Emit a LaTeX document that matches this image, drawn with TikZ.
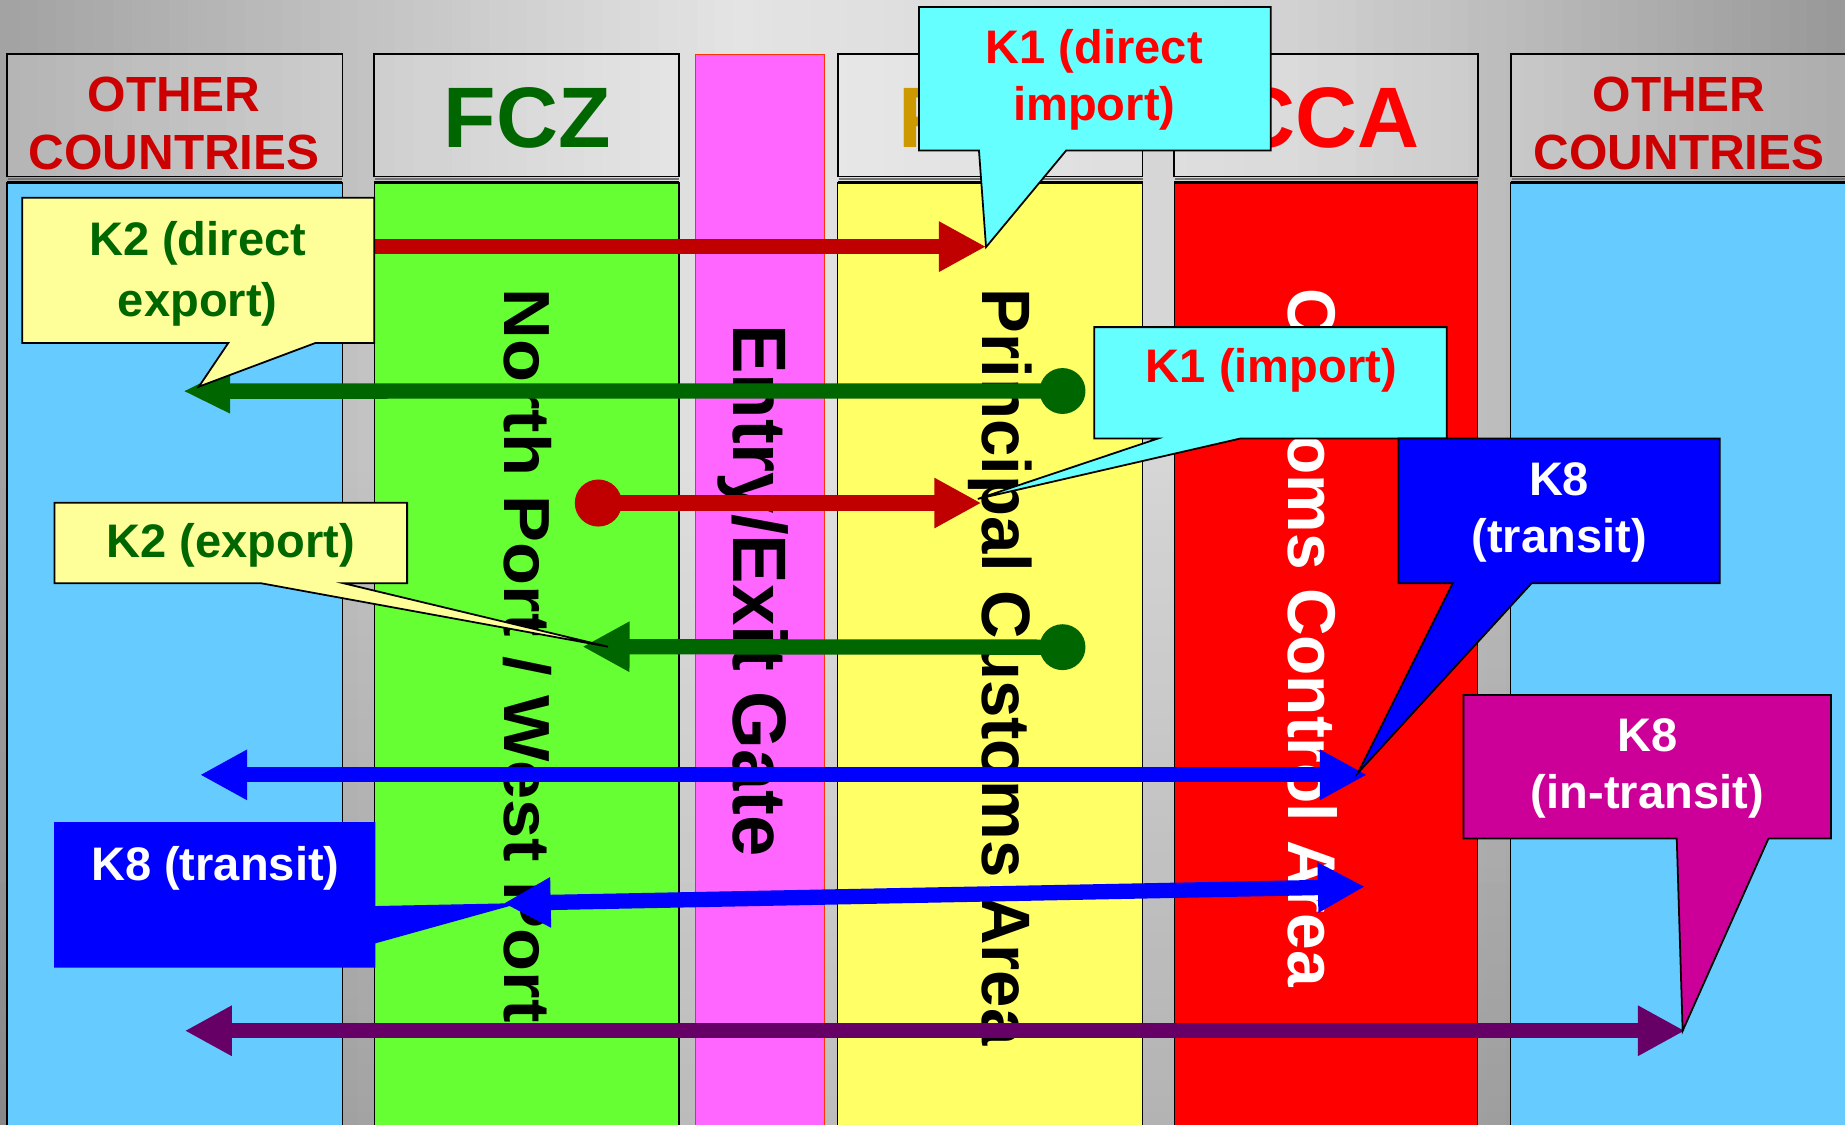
\documentclass[tikz,border=0pt]{standalone}
\usepackage{fontspec}
\usepackage{graphicx}
\setmainfont{Liberation Sans}
\usetikzlibrary{arrows.meta}
\definecolor{lblue}{HTML}{66CCFF}
\definecolor{lgreen}{HTML}{66FF33}
\definecolor{lpink}{HTML}{FF66FF}
\definecolor{lyellow}{HTML}{FFFF66}
\definecolor{cred}{HTML}{FF0000}
\definecolor{darkred}{HTML}{CC0000}
\definecolor{fczgreen}{HTML}{006600}
\definecolor{gold}{HTML}{CC9900}
\definecolor{cyanbox}{HTML}{66FFFF}
\definecolor{paleyellow}{HTML}{FFFF99}
\definecolor{kblue}{HTML}{0000FF}
\definecolor{kmagenta}{HTML}{CC0099}
\definecolor{arrred}{HTML}{C00000}
\definecolor{arrpurple}{HTML}{660066}
\definecolor{pinkedge}{HTML}{FF3300}
\newcommand\setfs[1]{\fontsize{#1pt}{#1pt}\selectfont}
\begin{document}
\begin{tikzpicture}[x=1pt, y=-1pt,
  hdrbox/.style={draw=black, line width=1.5pt, fill=white, fill opacity=0.2},
  hdrshadow/.style={draw=black!55, line width=2pt},
  colbody/.style={draw=black, line width=1pt},
  coltop/.style={draw=black, line width=2.5pt},
  callout/.style={draw=black, line width=1.5pt},
  hlabel/.style={inner sep=0, anchor=base, font=\bfseries\setfs{42}},
  biglabel/.style={inner sep=0, anchor=base, font=\bfseries\setfs{73}},
  vlabel/.style={inner sep=0, anchor=base west, rotate=-90},
  klabel/.style={inner sep=0, anchor=base, font=\bfseries\setfs{40}},
  arr/.style={line width=13pt, -{Triangle[length=40pt,width=40pt]}},
  darr/.style={line width=13pt, {Triangle[length=40pt,width=40pt]}-{Triangle[length=40pt,width=40pt]}},
  dot/.style={circle, inner sep=0, minimum size=39pt}]
\useasboundingbox (0,0) rectangle (1568,956);
% background gradient drawn as strips
\foreach \i in {0,...,97} {
  \pgfmathsetmacro\xa{\i*16}
  \pgfmathsetmacro\xc{\i*16+8}
  \pgfmathsetmacro\g{ifthenelse(\xc<627, 0.635+0.259*\xc/627, ifthenelse(\xc<1098, 0.894-0.070*(\xc-627)/471, 0.824-0.228*(\xc-1098)/470))}
  \definecolor{bgtmp}{gray}{\g}
  \fill[bgtmp] (\xa,0) rectangle (\xa+16.6,956);
}
\foreach \j in {0,...,39} {
  \pgfmathsetmacro\ya{400+\j*14}
  \pgfmathsetmacro\op{0.004*(\j+1)}
  \fill[black, fill opacity=\op] (0,\ya) rectangle (1568,\ya+14);
}
% column bodies
\draw[colbody, fill=lblue] (6,155) rectangle (291,965);
\draw[colbody, fill=lgreen] (318,155) rectangle (577,965);
\draw[colbody, fill=lyellow] (712,155) rectangle (971,965);
\draw[colbody, fill=cred] (998,155) rectangle (1256,965);
\draw[colbody, fill=lblue] (1284,155) rectangle (1580,965);
\draw[coltop] (6,155) -- (291,155);
\draw[coltop] (318,155) -- (577,155);
\draw[coltop] (712,155) -- (971,155);
\draw[coltop] (998,155) -- (1256,155);
\draw[coltop] (1284,155) -- (1580,155);
\draw[fill=lpink, draw=pinkedge, line width=1pt] (591,46) rectangle (701,965);
% headers
\draw[hdrbox] (6,46) rectangle (291,150);
\draw[hdrbox] (318,46) rectangle (577,150);
\draw[hdrbox] (712,46) rectangle (971,150);
\draw[hdrbox] (998,46) rectangle (1256,150);
\draw[hdrbox] (1284,46) rectangle (1580,150);
\draw[hdrshadow] (7,152) -- (291,152);
\draw[hdrshadow] (319,152) -- (577,152);
\draw[hdrshadow] (713,152) -- (971,152);
\draw[hdrshadow] (999,152) -- (1256,152);
\draw[hdrshadow] (1285,152) -- (1580,152);
\node[hlabel, text=darkred] (ocl1) at (148,95) {OTHER};
\node[hlabel, text=darkred] (ocl2) at (148,144) {COUNTRIES};
\node[hlabel, text=darkred] (ocr1) at (1427,95) {OTHER};
\node[hlabel, text=darkred] (ocr2) at (1427,144) {COUNTRIES};
\node[biglabel, text=fczgreen] (fcz) at (448,125.5) {FCZ};
\node[biglabel, text=gold] (pcah) at (841,125.5) {PCA};
\node[biglabel, text=cred] (ccah) at (1127,125.5) {CCA};
% vertical labels
\node[vlabel, font=\bfseries\setfs{55.4}] (np) at (428.7,245) {\scalebox{1.08}[1]{North Port / West Port}};
\node[vlabel, font=\bfseries\setfs{64.4}] (eg) at (623.2,275.4) {\scalebox{0.98}[1]{Entry/Exit Gate}};
\node[vlabel, font=\bfseries\setfs{58.2}] (pcav) at (835.2,245) {\scalebox{0.98}[1]{Principal Customs Area}};
\node[vlabel, font=\bfseries\setfs{57.4}, text=white] (ccav) at (1094.9,244.6) {\scalebox{0.975}[1]{Customs Control Area}};
% arrows
\coordinate (r1a) at (300,209.6);
\coordinate (r1b) at (838,209.6);
\draw[arr, arrred] (r1a) -- (r1b);
\node[dot, fill=fczgreen] (g1d) at (903,332.3) {};
\coordinate (g1b) at (155.6,332.4);
\draw[line width=13pt, fczgreen, -{Triangle[length=40pt,width=35pt]}] (g1d.center) -- (g1b);
\node[dot, fill=arrred, minimum size=40pt] (r2d) at (508.5,427.5) {};
\coordinate (r2b) at (834,427.5);
\draw[arr, arrred] (r2d.center) -- (r2b);
\node[dot, fill=fczgreen] (g2d) at (903,550) {};
\coordinate (g2b) at (495,549.6);
\draw[arr, fczgreen] (g2d.center) -- (g2b);
\coordinate (b1a) at (170,658.5);
\coordinate (b1b) at (1161.8,658.5);
\draw[darr, kblue] (b1a) -- (b1b);
\coordinate (b2a) at (428,767.7);
\coordinate (b2b) at (1160,753.5);
\draw[darr, kblue] (b2a) -- (b2b);
\coordinate (p1a) at (157,876);
\coordinate (p1b) at (1432,876);
\draw[darr, arrpurple] (p1a) -- (p1b);
% callouts
\draw[callout, fill=cyanbox] (781,6) -- (1080,6) -- (1080,128) -- (906,128) -- (838,210) -- (832,128) -- (781,128) -- cycle;
\node[klabel, text=cred] (k1dA) at (930,54) {K1 (direct};
\node[klabel, text=cred] (k1dB) at (930,102) {import)};
\draw[callout, fill=paleyellow] (19,168) -- (318,168) -- (318,291.5) -- (268,291.5) -- (169,328.6) -- (194,291.5) -- (19,291.5) -- cycle;
\node[klabel, text=fczgreen] (k2dA) at (168,217) {K2 (direct};
\node[klabel, text=fczgreen] (k2dB) at (168,269) {export)};
\draw[callout, fill=cyanbox] (930,278) -- (1229.5,278) -- (1229.5,372.7) -- (1054,372.7) -- (831,424) -- (984,372.7) -- (930,372.7) -- cycle;
\node[klabel, text=cred] (k1i) at (1080.5,325) {K1 (import)};
\draw[callout, fill=kblue] (1188.5,372.7) -- (1461.5,372.7) -- (1461.5,495.6) -- (1301.7,495.6) -- (1154,657) -- (1234.6,495.6) -- (1188.5,495.6) -- cycle;
\node[klabel, text=white] (k8rA) at (1325,421) {K8};
\node[klabel, text=white] (k8rB) at (1325,469.6) {(transit)};
\draw[callout, fill=kmagenta] (1243.8,590.6) -- (1556,590.6) -- (1556,712.5) -- (1503,712.5) -- (1430,876) -- (1425,712.5) -- (1243.8,712.5) -- cycle;
\node[klabel, text=white] (k8iA) at (1400,639) {K8};
\node[klabel, text=white] (k8iB) at (1400,687.5) {(in-transit)};
\draw[callout, fill=paleyellow] (46.3,427.2) -- (346,427.2) -- (346,495.7) -- (292,495.7) -- (516.7,549.6) -- (222,495.7) -- (46.3,495.7) -- cycle;
\node[klabel, text=fczgreen] (k2e) at (196,474) {K2 (export)};
\fill[kblue] (46,698.6) -- (319,698.6) -- (319,770) -- (442,767.5) -- (319,801.7) -- (319,822.4) -- (46,822.4) -- cycle;
\node[klabel, text=white] (k8l) at (183,748) {K8 (transit)};
\end{tikzpicture}
\end{document}
